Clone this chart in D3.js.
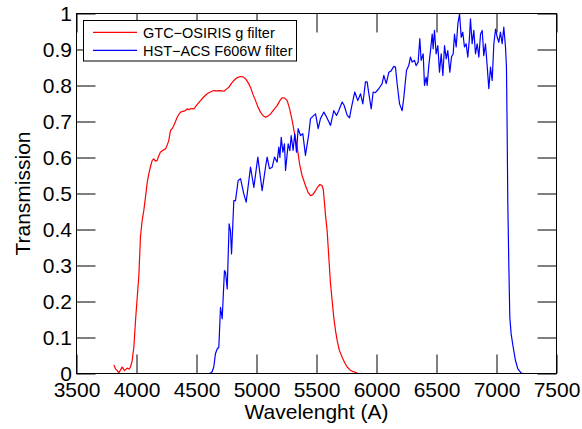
<!DOCTYPE html>
<html>
<head>
<meta charset="utf-8">
<script src="https://cdn.jsdelivr.net/npm/d3@7"></script>
<style>
  html, body { margin: 0; padding: 0; background: #fff; }
  svg { display: block; font-family: "Liberation Sans", Arial, Helvetica, sans-serif; }
</style>
</head>
<body>
<svg id="chart" width="582" height="429"></svg>
<script>
// ---- Data ----
const xTicks = [3500, 4000, 4500, 5000, 5500, 6000, 6500, 7000, 7500];
const yTicks = [0, 0.1, 0.2, 0.3, 0.4, 0.5, 0.6, 0.7, 0.8, 0.9, 1];
const yTickLabels = ["0", "0.1", "0.2", "0.3", "0.4", "0.5", "0.6", "0.7", "0.8", "0.9", "1"];
const seriesNames = ["GTC\u2212OSIRIS g filter", "HST\u2212ACS F606W filter"];
const seriesColors = ["#ff0000", "#0000ff"];

// GTC-OSIRIS g filter: wavelength (A), transmission
const gtcWave = [3811,3825,3840,3853,3867,3881,3900,3922,3937,3950,3964,3978,3992,4006,4019,4033,4047,4061,4075,4089,4103,4117,4131,4144,4158,4172,4186,4200,4221,4242,4256,4269,4283,4297,4311,4325,4339,4353,4367,4387,4408,4422,4436,4456,4478,4500,4533,4560,4589,4615,4644,4670,4700,4728,4750,4769,4790,4811,4840,4867,4888,4908,4930,4950,4970,4992,5012,5033,5055,5075,5095,5117,5145,5172,5195,5214,5235,5256,5276,5297,5318,5339,5360,5380,5408,5430,5450,5470,5492,5510,5528,5545,5556,5565,5575,5589,5603,5617,5631,5644,5658,5672,5690,5714,5735,5756,5780,5805,5839];
const gtcTrans = [0.024,0.013,0.008,0.002,0.010,0.018,0.008,0.015,0.012,0.018,0.036,0.073,0.147,0.212,0.268,0.379,0.425,0.453,0.490,0.530,0.555,0.575,0.592,0.596,0.590,0.592,0.605,0.615,0.620,0.624,0.635,0.647,0.675,0.680,0.689,0.700,0.712,0.720,0.726,0.728,0.730,0.735,0.733,0.736,0.735,0.745,0.758,0.768,0.777,0.782,0.786,0.785,0.786,0.784,0.790,0.795,0.805,0.814,0.822,0.825,0.824,0.819,0.808,0.795,0.776,0.758,0.740,0.726,0.716,0.712,0.715,0.721,0.733,0.744,0.758,0.766,0.765,0.758,0.735,0.703,0.665,0.629,0.580,0.550,0.522,0.503,0.494,0.497,0.508,0.518,0.525,0.522,0.512,0.480,0.440,0.395,0.320,0.249,0.200,0.156,0.120,0.092,0.065,0.045,0.030,0.018,0.010,0.005,0.002];

// HST-ACS F606W filter: wavelength (A), transmission
const hstWave = [4611,4630,4644,4658,4672,4686,4700,4714,4733,4742,4756,4772,4783,4792,4811,4825,4847,4867,4894,4914,4950,4978,5011,5047,5075,5089,5108,5131,5150,5172,5186,5195,5206,5220,5233,5242,5264,5278,5289,5305,5319,5333,5347,5367,5386,5408,5436,5450,5478,5492,5514,5533,5553,5561,5580,5617,5644,5667,5685,5714,5730,5756,5775,5795,5819,5844,5867,5886,5908,5922,5935,5956,5972,5990,6019,6047,6061,6081,6103,6120,6144,6158,6172,6192,6214,6228,6250,6269,6283,6297,6317,6330,6347,6361,6372,6389,6400,6414,6422,6436,6450,6464,6472,6483,6497,6511,6525,6539,6553,6567,6581,6594,6611,6625,6639,6650,6664,6678,6692,6706,6719,6733,6747,6761,6775,6783,6797,6811,6825,6839,6853,6867,6881,6894,6908,6922,6936,6950,6964,6978,6992,7006,7019,7033,7047,7061,7075,7083,7089,7094,7103,7111,7122,7139,7158,7178,7206,7220];
const hstTrans = [0.000,0.005,0.018,0.055,0.068,0.073,0.184,0.152,0.286,0.281,0.235,0.416,0.397,0.332,0.480,0.480,0.536,0.541,0.499,0.476,0.573,0.517,0.601,0.508,0.573,0.601,0.569,0.573,0.601,0.587,0.629,0.600,0.656,0.615,0.638,0.564,0.638,0.619,0.661,0.620,0.666,0.615,0.680,0.661,0.666,0.606,0.666,0.708,0.717,0.721,0.680,0.708,0.721,0.726,0.715,0.689,0.730,0.717,0.730,0.754,0.745,0.717,0.710,0.745,0.782,0.758,0.777,0.749,0.810,0.810,0.780,0.735,0.782,0.780,0.791,0.805,0.828,0.805,0.837,0.840,0.853,0.851,0.805,0.749,0.730,0.768,0.842,0.856,0.879,0.865,0.870,0.855,0.865,0.930,0.870,0.888,0.800,0.823,0.800,0.856,0.897,0.943,0.902,0.953,0.888,0.911,0.837,0.888,0.828,0.911,0.874,0.897,0.837,0.879,0.888,0.943,0.907,0.971,0.999,0.934,0.948,0.907,0.916,0.879,0.934,0.985,0.916,0.953,0.888,0.916,0.879,0.943,0.953,0.883,0.916,0.856,0.791,0.851,0.814,0.916,0.957,0.934,0.920,0.948,0.916,0.962,0.907,0.851,0.666,0.480,0.295,0.156,0.110,0.073,0.036,0.013,0.001,0.000];

const xLabel = "Wavelenght (A)";
const yLabel = "Transmission";

// ---- Drawing ----
const svg = d3.select("#chart");
const FONT = 21;
const x = d3.scaleLinear().domain([3500, 7500]).range([76.5, 556.5]);
const y = d3.scaleLinear().domain([0, 1]).range([373.5, 13.5]);

svg.append("rect").attr("width", 582).attr("height", 429).attr("fill", "#fff");

const series = [
  { name: seriesNames[0], color: seriesColors[0], data: gtcWave.map((w, i) => [w, gtcTrans[i]]) },
  { name: seriesNames[1], color: seriesColors[1], data: hstWave.map((w, i) => [w, hstTrans[i]]) }
];

const line = d3.line().x(d => x(d[0])).y(d => y(d[1]));
series.forEach(s => {
  svg.append("path")
    .attr("d", line(s.data))
    .attr("fill", "none")
    .attr("stroke", s.color)
    .attr("stroke-width", 1.2)
    .attr("stroke-linejoin", "round");
});

function styleAxis(g) {
  g.select(".domain").remove();
  g.selectAll(".tick line").attr("stroke", "#000").attr("stroke-width", 1);
  g.selectAll(".tick text").attr("fill", "#000").style("font-size", FONT + "px")
    .style("font-family", '"Liberation Sans", Arial, Helvetica, sans-serif');
}

// bottom axis (labels)
svg.append("g").attr("transform", `translate(0,${y(0)})`)
  .call(d3.axisBottom(x).tickValues(xTicks).tickFormat(d3.format("d")).tickSizeInner(-19).tickSizeOuter(0).tickPadding(9))
  .call(styleAxis);
// left axis (labels)
svg.append("g").attr("transform", `translate(${x(3500)},0)`)
  .call(d3.axisLeft(y).tickValues(yTicks).tickFormat((d, i) => yTickLabels[i]).tickSizeInner(-19).tickSizeOuter(0).tickPadding(4.5))
  .call(styleAxis);
// top axis (ticks only)
svg.append("g").attr("transform", `translate(0,${y(1)})`)
  .call(d3.axisTop(x).tickValues(xTicks).tickFormat("").tickSizeInner(-19).tickSizeOuter(0))
  .call(styleAxis);
// right axis (ticks only)
svg.append("g").attr("transform", `translate(${x(7500)},0)`)
  .call(d3.axisRight(y).tickValues(yTicks).tickFormat("").tickSizeInner(-19).tickSizeOuter(0))
  .call(styleAxis);

// frame
svg.append("rect")
  .attr("x", x(3500)).attr("y", y(1))
  .attr("width", x(7500) - x(3500)).attr("height", y(0) - y(1))
  .attr("fill", "none").attr("stroke", "#000").attr("stroke-width", 1);

// axis titles
svg.append("text")
  .attr("x", (x(3500) + x(7500)) / 2).attr("y", 419)
  .attr("text-anchor", "middle").style("font-size", FONT + "px").attr("fill", "#000")
  .text(xLabel);
svg.append("text")
  .attr("transform", `translate(30,${(y(0) + y(1)) / 2}) rotate(-90)`)
  .attr("text-anchor", "middle").style("font-size", FONT + "px").attr("fill", "#000")
  .text(yLabel);

// legend
const lg = svg.append("g");
lg.append("rect").attr("x", 83.5).attr("y", 20.5).attr("width", 213).attr("height", 40.5)
  .attr("fill", "#fff").attr("stroke", "#000").attr("stroke-width", 1);
series.forEach((s, i) => {
  const ly = 32.3 + i * 18;
  lg.append("line").attr("x1", 93).attr("x2", 137).attr("y1", ly).attr("y2", ly)
    .attr("stroke", s.color).attr("stroke-width", 1.2);
  lg.append("text").attr("x", 143).attr("y", ly + 5.2)
    .style("font-size", "14.5px").attr("fill", "#000").text(s.name);
});
</script>
</body>
</html>
